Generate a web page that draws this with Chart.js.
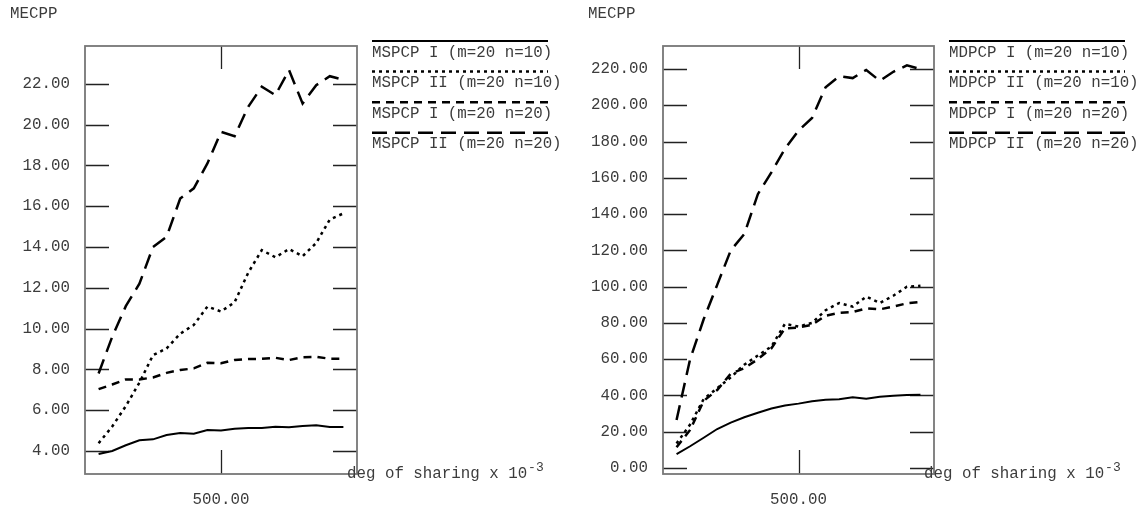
<!DOCTYPE html>
<html>
<head>
<meta charset="utf-8">
<script src="https://cdn.jsdelivr.net/npm/chart.js@4/dist/chart.umd.min.js"></script>
<style>
body { margin: 0; background: #fff; }
#wrap { position: relative; width: 1147px; height: 512px; }
.panel { position: absolute; top: 0; height: 512px; }
</style>
</head>
<body>
<div id="wrap">
  <div class="panel" style="left:0;width:573px"><canvas id="left" width="573" height="512"></canvas></div>
  <div class="panel" style="left:573px;width:574px"><canvas id="right" width="574" height="512"></canvas></div>
</div>
<script>
// deg of sharing (x axis)
const sharing = [50, 100, 150, 200, 250, 300, 350, 400, 450, 500, 550, 600, 650, 700, 750, 800, 850, 900, 950];

// left panel: MSPCP
const mspcpI_n10  = [3.85, 4.0, 4.28, 4.52, 4.57, 4.78, 4.88, 4.84, 5.03, 5.0, 5.09, 5.12, 5.13, 5.19, 5.16, 5.22, 5.26, 5.18, 5.18];
const mspcpII_n10 = [4.38, 5.2, 6.2, 7.35, 8.7, 9.03, 9.75, 10.18, 11.08, 10.84, 11.29, 12.74, 13.85, 13.5, 13.9, 13.55, 14.2, 15.35, 15.65];
const mspcpI_n20  = [7.03, 7.26, 7.51, 7.51, 7.6, 7.83, 7.97, 8.05, 8.33, 8.3, 8.46, 8.51, 8.52, 8.57, 8.46, 8.6, 8.62, 8.52, 8.52];
const mspcpII_n20 = [7.8, 9.6, 11.1, 12.2, 14.0, 14.5, 16.38, 16.88, 18.1, 19.65, 19.44, 20.88, 21.86, 21.45, 22.68, 21.04, 21.94, 22.38, 22.2];

// right panel: MDPCP
const mdpcpI_n10  = [7.7, 12, 16.7, 21.5, 25, 28, 30.5, 32.8, 34.5, 35.5, 36.8, 37.6, 37.9, 39, 38.2, 39.3, 39.9, 40.3, 40.4];
const mdpcpII_n10 = [13.5, 24, 38, 44, 50, 57, 62, 67, 79.5, 78, 80, 87, 91, 89, 94.5, 91, 95, 100, 100.5];
const mdpcpI_n20  = [11.5, 21, 37, 43, 52, 55, 60, 66, 77, 77.5, 79, 84, 85.5, 86, 88, 87.5, 89, 90.8, 91.5];
const mdpcpII_n20 = [26.5, 60, 82, 101, 120, 129, 151, 163, 176, 186, 193, 210, 216, 215, 219.5, 213.5, 218.5, 222, 220];

const leftYTicks = [4, 6, 8, 10, 12, 14, 16, 18, 20, 22];
const rightYTicks = [0, 20, 40, 60, 80, 100, 120, 140, 160, 180, 200, 220];
const xTicks = [500];

const FAMILY = '"Liberation Mono", "Courier New", monospace';
const FONT = '15.8px ' + FAMILY;
const TEXT = '#3c3c3c';

const styles = [
    { borderWidth: 2, borderDash: [] },
    { borderWidth: 2.5, borderDash: [3, 4] },
    { borderWidth: 2.5, borderDash: [8, 6] },
    { borderWidth: 2.5, borderDash: [15, 8] }
];

// frame, inner tick marks, legend and axis titles
const decor = {
    id: 'decor',
    beforeDatasetsDraw(chart) {
        const ctx = chart.ctx, a = chart.chartArea;
        const x = chart.scales.x, y = chart.scales.y;
        ctx.save();
        ctx.strokeStyle = '#222';
        ctx.lineWidth = 1.3;
        ctx.beginPath();
        y.ticks.forEach(t => {
            const py = Math.round(y.getPixelForValue(t.value)) + 0.5;
            ctx.moveTo(a.left, py); ctx.lineTo(a.left + 24, py);
            ctx.moveTo(a.right - 24, py); ctx.lineTo(a.right, py);
        });
        x.ticks.forEach(t => {
            const px = Math.round(x.getPixelForValue(t.value)) + 0.5;
            ctx.moveTo(px, a.top); ctx.lineTo(px, a.top + 23);
            ctx.moveTo(px, a.bottom - 24); ctx.lineTo(px, a.bottom);
        });
        ctx.stroke();
        ctx.strokeStyle = '#777';
        ctx.lineWidth = 1.8;
        ctx.strokeRect(a.left, a.top, a.right - a.left, a.bottom - a.top);
        ctx.restore();
    },
    afterDraw(chart) {
        const ctx = chart.ctx, a = chart.chartArea;
        ctx.save();
        ctx.font = FONT;
        ctx.fillStyle = TEXT;
        ctx.textBaseline = 'middle';
        ctx.textAlign = 'left';
        ctx.fillText('MECPP', a.left - 75, 14);

        // legend: sample line above each label
        const lx = a.right + 15;
        chart.data.datasets.forEach((ds, i) => {
            const ly = 41 + i * 30.6;
            ctx.strokeStyle = '#000';
            ctx.lineWidth = ds.borderWidth;
            ctx.setLineDash(ds.borderDash);
            ctx.beginPath();
            ctx.moveTo(lx, ly); ctx.lineTo(lx + 176, ly);
            ctx.stroke();
            ctx.setLineDash([]);
            ctx.fillText(ds.label, lx, ly + 11.5);
        });

        // x axis title with superscript
        const tx = a.right - 10, ty = a.bottom;
        const main = 'deg of sharing x 10';
        ctx.fillText(main, tx, ty);
        const w = ctx.measureText(main).width;
        ctx.font = '13px ' + FAMILY;
        ctx.fillText('-3', tx + w + 1, ty - 6);
        ctx.restore();
    }
};

function makeChart(id, labels, series, yTicks, yMin, yMax, areaLeft, areaRight, width) {
    const datasets = series.map((s, i) => ({
        label: labels[i],
        data: sharing.map((v, k) => ({ x: v, y: s[k] })),
        borderColor: '#000',
        borderWidth: styles[i].borderWidth,
        borderDash: styles[i].borderDash,
        pointRadius: 0,
        tension: 0,
        fill: false
    }));
    return new Chart(document.getElementById(id), {
        type: 'line',
        data: { datasets: datasets },
        options: {
            responsive: false,
            animation: false,
            layout: { padding: { left: 0, top: 46, right: width - areaRight, bottom: 0 } },
            plugins: { legend: { display: false }, tooltip: { enabled: false } },
            scales: {
                x: {
                    type: 'linear', min: 0, max: 1000,
                    grid: { display: false, drawTicks: false },
                    border: { display: false },
                    afterBuildTicks: s => { s.ticks = xTicks.map(v => ({ value: v })); },
                    afterFit: s => { s.height = 38; },
                    ticks: {
                        padding: 16, color: TEXT, maxRotation: 0,
                        font: { family: FAMILY, size: 15.8 },
                        callback: v => v.toFixed(2)
                    }
                },
                y: {
                    type: 'linear', min: yMin, max: yMax,
                    grid: { display: false, drawTicks: false },
                    border: { display: false },
                    afterBuildTicks: s => { s.ticks = yTicks.map(v => ({ value: v })); },
                    afterFit: s => { s.width = areaLeft; },
                    ticks: {
                        padding: 15, color: TEXT,
                        font: { family: FAMILY, size: 15.8 },
                        callback: v => v.toFixed(2)
                    }
                }
            }
        },
        plugins: [decor]
    });
}

makeChart('left',
    ['MSPCP I (m=20 n=10)', 'MSPCP II (m=20 n=10)', 'MSPCP I (m=20 n=20)', 'MSPCP II (m=20 n=20)'],
    [mspcpI_n10, mspcpII_n10, mspcpI_n20, mspcpII_n20],
    leftYTicks, 2.87, 23.86, 85, 357, 573);

makeChart('right',
    ['MDPCP I (m=20 n=10)', 'MDPCP II (m=20 n=10)', 'MDPCP I (m=20 n=20)', 'MDPCP II (m=20 n=20)'],
    [mdpcpI_n10, mdpcpII_n10, mdpcpI_n20, mdpcpII_n20],
    rightYTicks, -3.3, 232.7, 90, 361, 574);
</script>
</body>
</html>
